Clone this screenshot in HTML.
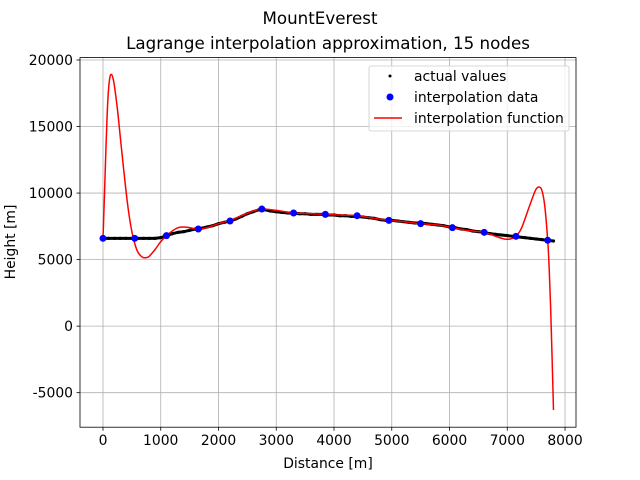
<!DOCTYPE html>
<html><head><meta charset="utf-8"><style>
body{margin:0;background:#fff}
svg{display:block;font-family:"DejaVu Sans","Liberation Sans",sans-serif}
</style></head><body>
<svg id="chart" width="640" height="480">
<text x="320" y="24" font-size="16.7" text-anchor="middle">MountEverest</text>
<text x="328" y="49" font-size="16.7" text-anchor="middle">Lagrange interpolation approximation, 15 nodes</text>
<text x="328" y="468" font-size="13.9" text-anchor="middle">Distance [m]</text>
<text x="15" y="242" font-size="13.9" text-anchor="middle" transform="rotate(-90 15 242)">Height [m]</text>
<g id="grid"></g><g id="marks"></g><g id="axes"></g>
</svg>
<script>
const xTicks=[0,1000,2000,3000,4000,5000,6000,7000,8000];
const yTicks=[-5000,0,5000,10000,15000,20000];
const actualX=[];for(let i=0;i<=78;i++)actualX.push(i*100);
const actualY=[6600,6600,6600,6600,6600,6600,6600,6600,6600,6600,6650,6800,6950,7050,7100,7200,7300,7350,7450,7550,7700,7800,7900,8050,8250,8450,8600,8750,8750,8650,8600,8550,8500,8500,8450,8450,8400,8400,8400,8350,8350,8300,8300,8250,8250,8200,8150,8100,8000,7950,7950,7900,7850,7800,7750,7750,7700,7650,7600,7550,7450,7400,7300,7250,7150,7100,7050,6950,6900,6850,6800,6750,6700,6650,6600,6550,6500,6450,6400];
const nodeX=[0,550,1100,1650,2200,2750,3300,3850,4400,4950,5500,6050,6600,7150,7700];
const nodeY=[6600,6600,6800,7300,7900,8800,8500,8400,8300,7950,7700,7400,7050,6750,6450];
const fnX=[0,25,50,75,100,125,150,175,200,250,300,350,400,450,500,550,600,650,700,750,800,900,1000,1100,1200,1300,1400,1500,1650,1800,2000,2200,2400,2600,2750,3000,3300,3600,3850,4100,4400,4700,4950,5200,5500,5800,6050,6300,6600,6800,6950,7050,7150,7250,7350,7450,7500,7550,7600,7650,7700,7725,7750,7775,7800];
const fnY=[6600,9800,13200,16200,18000,18800,18900,18600,18000,16300,14200,12100,10100,8400,7100,6200,5600,5300,5150,5150,5250,5750,6350,6800,7150,7400,7450,7400,7300,7400,7700,7950,8300,8650,8800,8700,8500,8450,8400,8350,8300,8100,7950,7850,7700,7600,7400,7200,7050,6750,6550,6550,6750,7400,8600,9800,10300,10450,10200,9000,6450,4400,1500,-2200,-6300];
const L=80,R=576,T=57.6,B=427.2,xmin=-398,xmax=8190,ymin=-7594,ymax=20180;
const sx=v=>L+(v-xmin)/(xmax-xmin)*(R-L);
const sy=v=>B-(v-ymin)/(ymax-ymin)*(B-T);
const NS="http://www.w3.org/2000/svg";
function mk(t,a,p){const e=document.createElementNS(NS,t);for(const k in a)e.setAttribute(k,a[k]);p.appendChild(e);return e;}
const grid=document.getElementById('grid'),marks=document.getElementById('marks'),axes=document.getElementById('axes');
xTicks.forEach(v=>{const x=sx(v);
 const g=mk('line',{x1:x,x2:x,y1:T,y2:B,stroke:'#b0b0b0','stroke-width':0.8},grid);
 
 
 mk('line',{x1:x,x2:x,y1:B,y2:B+3.5,stroke:'#000','stroke-width':0.8},axes);
 const t=mk('text',{x:x,y:B+18,'font-size':13.9,'text-anchor':'middle'},axes);t.textContent=v;
 
 });
yTicks.forEach(v=>{const y=sy(v);
 const g=mk('line',{x1:L,x2:R,y1:y,y2:y,stroke:'#b0b0b0','stroke-width':0.8},grid);
 
 
 mk('line',{x1:L-3.5,x2:L,y1:y,y2:y,stroke:'#000','stroke-width':0.8},axes);
 const t=mk('text',{x:L-7,y:y+5,'font-size':13.9,'text-anchor':'end'},axes);t.textContent=v;
 
 });
const frame=mk('rect',{x:L,y:T,width:R-L,height:B-T,fill:'none',stroke:'#000','stroke-width':0.8},axes);


const al=mk('polyline',{points:actualX.map((x,i)=>sx(x)+','+sy(actualY[i])).join(' '),fill:'none',stroke:'#000','stroke-width':3},marks);


actualX.forEach((x,i)=>{const c=mk('circle',{cx:sx(x),cy:sy(actualY[i]),r:1.6,fill:'#000'},marks);
 
 });
const P=fnX.map((x,i)=>[sx(x),sy(fnY[i])]);
let d='M'+P[0][0]+','+P[0][1];
for(let i=0;i<P.length-1;i++){const p0=P[Math.max(0,i-1)],p1=P[i],p2=P[i+1],p3=P[Math.min(P.length-1,i+2)];
 d+=' C'+(p1[0]+(p2[0]-p0[0])/6)+','+(p1[1]+(p2[1]-p0[1])/6)+' '+(p2[0]-(p3[0]-p1[0])/6)+','+(p2[1]-(p3[1]-p1[1])/6)+' '+p2[0]+','+p2[1];}
const fl=mk('path',{d:d,fill:'none',stroke:'#ff0000','stroke-width':1.5,'stroke-linejoin':'round'},marks);


nodeX.forEach((x,i)=>{const c=mk('circle',{cx:sx(x),cy:sy(nodeY[i]),r:3.5,fill:'#0000ff'},marks);
 
 });
const lg=mk('g',{},axes);


mk('rect',{x:369,y:66,width:200,height:65,rx:2,fill:'#fff','fill-opacity':0.8,stroke:'#cccccc','stroke-width':0.8},lg);
mk('circle',{cx:390,cy:76,r:1.5,fill:'#000'},lg);
mk('circle',{cx:390,cy:97,r:3.5,fill:'#0000ff'},lg);
mk('line',{x1:374,x2:402,y1:118,y2:118,stroke:'#ff0000','stroke-width':1.5},lg);
[['actual values',81],['interpolation data',102],['interpolation function',123]].forEach(([s,y])=>{
 const t=mk('text',{x:414,y:y,'font-size':13.9},lg);t.textContent=s;
 
 });
</script>
</body></html>
